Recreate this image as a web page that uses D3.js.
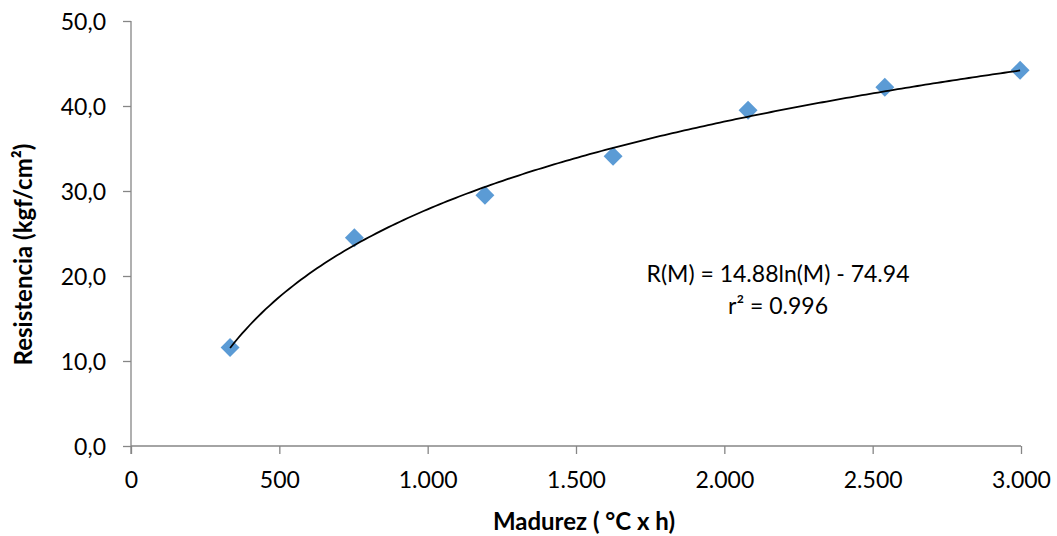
<!DOCTYPE html>
<html><head><meta charset="utf-8">
<script src="https://cdn.jsdelivr.net/npm/d3@7"></script>
<style>
html,body{margin:0;padding:0;background:#fff;}
svg text{font-family:Lato,"Open Sans",sans-serif;fill:#000;}
</style></head>
<body><svg id="c" width="1057" height="536"></svg>
<script>
const madurez = [334, 753, 1193, 1625, 2080, 2541, 2997];
const resistencia = [11.6, 24.5, 29.5, 34.1, 39.5, 42.2, 44.2];
const xTicks = [0, 500, 1000, 1500, 2000, 2500, 3000];
const yTicks = [0, 10, 20, 30, 40, 50];
const fitA = 14.88, fitB = -74.94;
const eqLines = ["R(M) = 14.88ln(M) - 74.94", "r² = 0.996"];
const xTitle = "Madurez ( °C x h)";
const yTitle = "Resistencia (kgf/cm²)";

const svg = d3.select("#c");
const x = d3.scaleLinear().domain([0, 3000]).range([131, 1021]);
const y = d3.scaleLinear().domain([0, 50]).range([446, 21]);
const axisColor = "#868686";
const fmtX = v => v === 0 ? "0" : d3.format(",")(v).replace(/,/g, ".");
const fmtY = v => d3.format(".1f")(v).replace(".", ",");

// y axis
const ya = svg.append("g").attr("transform", "translate(131,0)")
  .call(d3.axisLeft(y).tickValues(yTicks).tickSize(8).tickPadding(17).tickFormat(fmtY));
ya.select(".domain").attr("stroke", axisColor).attr("stroke-width", 1.3).attr("d", "M0,21V454");
ya.selectAll(".tick line").attr("stroke", axisColor).attr("stroke-width", 1.3);
ya.selectAll(".tick text").attr("font-size", 23).attr("font-family", "Lato").attr("dy", "0.36em");

// x axis
const xa = svg.append("g").attr("transform", "translate(0,446)")
  .call(d3.axisBottom(x).tickValues(xTicks).tickSize(8).tickPadding(0).tickFormat(fmtX));
xa.select(".domain").attr("stroke", axisColor).attr("stroke-width", 1.3).attr("d", "M131,0H1021");
xa.selectAll(".tick line").attr("stroke", axisColor).attr("stroke-width", 1.3);
xa.selectAll(".tick text").attr("font-size", 23).attr("font-family", "Lato").attr("dy", null).attr("y", 42);

// trendline (from displayed equation)
const tx = d3.range(0, 201).map(i => madurez[0] + (madurez[madurez.length-1] - madurez[0]) * i / 200);
const line = d3.line().x(d => x(d)).y(d => y(fitA * Math.log(d) + fitB)).curve(d3.curveLinear);

// markers
const diamond = d3.symbol().type(d3.symbolSquare).size(13.4*13.4);
svg.append("g").selectAll("path").data(madurez).join("path")
  .attr("d", diamond)
  .attr("transform", (d, i) => `translate(${x(d)},${y(resistencia[i])}) rotate(45)`)
  .attr("fill", "#5B9BD5");

svg.append("path").datum(tx).attr("d", line).attr("fill", "none")
  .attr("stroke", "#000").attr("stroke-width", 1.8);

// equation
svg.append("g").selectAll("text").data(eqLines).join("text")
  .attr("x", 778).attr("y", (d, i) => 282 + i * 31.5)
  .attr("text-anchor", "middle").attr("font-size", 23).text(d => d);

// titles
svg.append("text").attr("x", 584).attr("y", 530).attr("text-anchor", "middle")
  .attr("font-size", 24).attr("font-weight", "bold").text(xTitle);
svg.append("text").attr("transform", "translate(32,254.5) rotate(-90)")
  .attr("text-anchor", "middle").attr("font-size", 24).attr("font-weight", "bold").text(yTitle);
</script></body></html>
